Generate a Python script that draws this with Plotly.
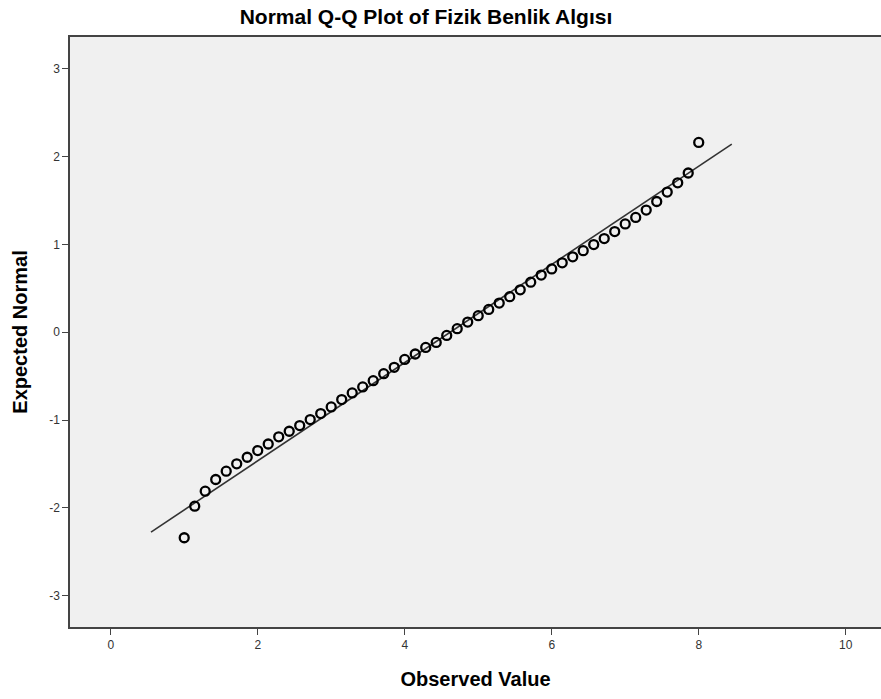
import plotly.graph_objects as go

# Observed values (scale scores, steps of 1/7 from 1 to 8)
observed_k = list(range(7, 57))
observed = [k / 7 for k in observed_k]

# Expected normal values
expected = [
    -2.339, -1.980, -1.809, -1.676, -1.582, -1.498, -1.423, -1.347, -1.272, -1.190,
    -1.127, -1.063, -0.994, -0.926, -0.850, -0.767, -0.691, -0.623, -0.551, -0.472,
    -0.400, -0.310, -0.248, -0.173, -0.116, -0.036, 0.040, 0.116, 0.188, 0.260,
    0.332, 0.404, 0.483, 0.570, 0.650, 0.720, 0.790, 0.858, 0.928, 0.998,
    1.066, 1.145, 1.232, 1.307, 1.390, 1.488, 1.595, 1.700, 1.812, 2.160,
]

# Reference line endpoints
line_x = [0.548, 8.45]
line_y = [-2.275, 2.14]

x_ticks = [0, 2, 4, 6, 8, 10]
y_ticks = [-3, -2, -1, 0, 1, 2, 3]

fig = go.Figure()
fig.add_trace(go.Scatter(
    x=line_x, y=line_y, mode="lines",
    line=dict(color="#333333", width=1.6),
    hoverinfo="skip", showlegend=False,
))
fig.add_trace(go.Scatter(
    x=observed, y=expected, mode="markers",
    marker=dict(symbol="circle-open", size=9, color="#000000",
                line=dict(color="#000000", width=2.3)),
    showlegend=False,
))

axis_font = dict(family="Liberation Sans, Arial, sans-serif", size=12, color="#333333")
title_family = "Liberation Sans, Arial, sans-serif"

fig.update_layout(
    width=881, height=699,
    margin=dict(l=70, r=0, t=37, b=72),
    paper_bgcolor="#ffffff",
    plot_bgcolor="#f0f0f0",
    title=dict(
        text="<b>Normal Q-Q Plot of Fizik Benlik Algısı</b>",
        x=0.4835, xanchor="center", y=1 - 17 / 699, yanchor="middle",
        font=dict(family=title_family, size=21, color="#000000"),
    ),
    xaxis=dict(
        range=[-0.554, 10.48],
        tickvals=x_ticks, ticktext=[str(v) for v in x_ticks],
        showgrid=False, zeroline=False,
        showline=True, linecolor="#444444", linewidth=1.5, mirror=True,
        ticks="outside", ticklen=6, tickcolor="#444444", tickwidth=1,
        tickfont=axis_font,
        title=dict(text="<b>Observed Value</b>", standoff=21,
                   font=dict(family=title_family, size=20, color="#000000")),
    ),
    yaxis=dict(
        range=[-3.355, 3.36],
        tickvals=y_ticks, ticktext=[str(v) for v in y_ticks],
        showgrid=False, zeroline=False,
        showline=True, linecolor="#444444", linewidth=1.5, mirror=False,
        ticks="outside", ticklen=6, tickcolor="#444444", tickwidth=1,
        tickfont=axis_font,
        title=dict(text="<b>Expected Normal</b>", standoff=16,
                   font=dict(family=title_family, size=20, color="#000000")),
    ),
)

fig.write_html("out.html")
